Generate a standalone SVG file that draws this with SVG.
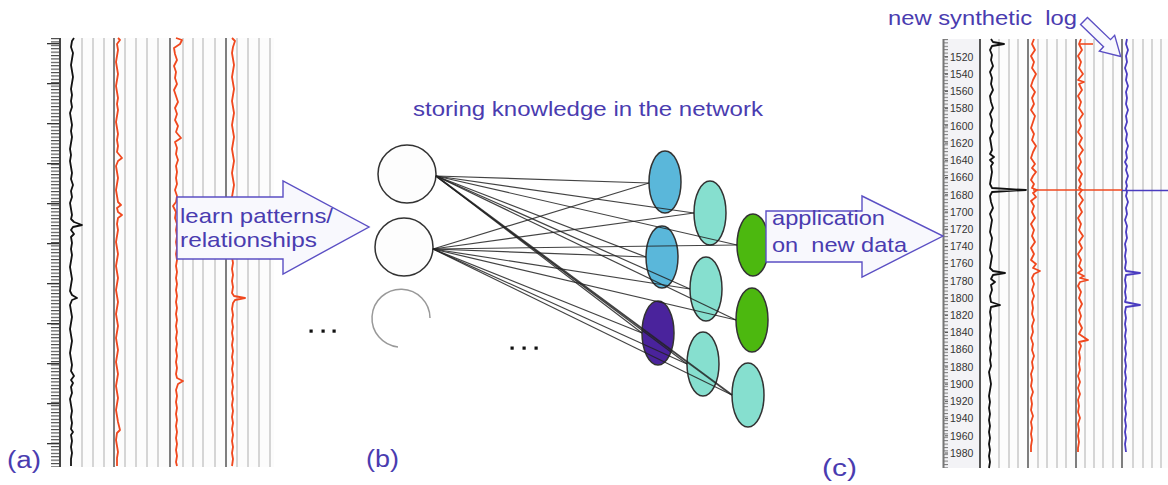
<svg xmlns="http://www.w3.org/2000/svg" width="1168" height="485" viewBox="0 0 1168 485">
<style>
.lbl{font-family:"Liberation Sans",Arial,sans-serif;fill:#4a3cb0}
.dep{font-family:"Liberation Sans",Arial,sans-serif;font-size:10.5px;fill:#333}
.grid{stroke:#c9c9c9;stroke-width:1.5}
.sep{stroke:#555;stroke-width:1.5}
.crv{fill:none;stroke-width:1.8;stroke-linejoin:round}
.blk{stroke:#111}
.red{stroke:#f0481e}
.blu{stroke:#4a3cc0}
.arrow{fill:#f8f8fd;stroke:#5b4fc4;stroke-width:1.4}
.node{stroke:#333;stroke-width:1.5}
.conn line{stroke:#222;stroke-width:1.2;stroke-opacity:0.85}
</style>
<defs>
<pattern id="tickL" x="0" y="38" width="9" height="3.4" patternUnits="userSpaceOnUse"><rect x="0" y="0" width="9" height="1.1" fill="#444"/></pattern>
<pattern id="tickL2" x="0" y="43" width="13" height="40" patternUnits="userSpaceOnUse"><rect x="0" y="0" width="13" height="1.3" fill="#333"/></pattern>
<pattern id="tickR" x="0" y="39" width="4" height="3.4" patternUnits="userSpaceOnUse"><rect x="0" y="0" width="4" height="1" fill="#777"/></pattern>
</defs>
<rect width="1168" height="485" fill="#fff"/>

<!-- (a) left logs panel -->
<g id="panel-a">
<rect x="60" y="38" width="214" height="429" fill="#fcfcfc"/>
<rect x="51" y="38" width="9" height="429" fill="url(#tickL)"/>
<rect x="47" y="38" width="13" height="429" fill="url(#tickL2)"/>
<line x1="60" y1="38" x2="60" y2="467" stroke="#444" stroke-width="2"/>
<g class="grid">
<line x1="82" y1="38" x2="82" y2="467"/><line x1="93" y1="38" x2="93" y2="467"/><line x1="104" y1="38" x2="104" y2="467"/>
<line x1="125" y1="38" x2="125" y2="467"/><line x1="136" y1="38" x2="136" y2="467"/><line x1="147" y1="38" x2="147" y2="467"/><line x1="158" y1="38" x2="158" y2="467"/>
<line x1="183" y1="38" x2="183" y2="467"/><line x1="193" y1="38" x2="193" y2="467"/><line x1="203" y1="38" x2="203" y2="467"/><line x1="215" y1="38" x2="215" y2="467"/>
<line x1="237" y1="38" x2="237" y2="467"/><line x1="248" y1="38" x2="248" y2="467"/><line x1="259" y1="38" x2="259" y2="467"/><line x1="270" y1="38" x2="270" y2="467"/>
</g>
<g class="sep">
<line x1="114" y1="38" x2="114" y2="467"/><line x1="170" y1="38" x2="170" y2="467"/><line x1="226" y1="38" x2="226" y2="467"/>
</g>
<polyline class="crv blk" points="74,38 72,41 71,47 73,53 72,59 71,65 72,71 73,77 72,83 71,89 72,95 71,101 72,107 70,113 71,119 72,125 71,131 72,137 71,143 70,149 71,155 70,161 71,167 72,173 71,179 73,185 71,191 72,197 70,203 71,209 72,215 71,219 74,222 82,225 73,227 71,230 74,234 71,237 72,243 71,249 72,255 71,261 70,267 71,273 72,279 71,285 70,291 72,295 77,298 72,300 70,305 71,311 72,317 71,323 70,329 71,335 72,341 71,347 70,353 71,359 72,365 71,371 74,376 71,380 73,383 71,387 72,393 70,399 71,405 72,411 71,417 72,423 71,429 73,432 71,435 72,441 71,447 72,453 71,459 71,466"/>
<polyline class="crv red" points="118,38 120,40 117,44 118,50 117,56 116,62 117,68 118,74 117,80 116,86 117,92 118,98 117,104 118,110 117,116 116,122 117,128 118,134 117,140 118,146 117,152 122,158 118,161 116,166 117,172 118,178 117,184 116,190 117,196 118,202 121,205 117,208 118,212 122,215 118,218 117,224 118,230 117,236 116,242 117,248 118,254 117,260 116,266 117,272 118,278 117,284 116,290 117,296 118,302 117,308 116,314 117,320 118,326 117,332 116,338 117,344 118,350 117,356 116,362 117,368 118,374 117,380 116,386 117,392 118,398 117,404 116,410 117,416 118,422 120,430 117,433 116,440 117,446 118,452 117,458 117,466"/>
<polyline class="crv red" points="176,38 182,40 180,44 174,48 175,54 177,60 174,66 176,72 175,78 177,84 174,90 176,96 178,102 175,108 177,114 175,120 178,126 176,132 181,138 175,142 177,148 176,154 178,160 176,166 177,172 176,178 177,184 175,190 177,196 176,202 173,206 176,212 175,218 177,224 176,230 177,236 176,242 177,248 176,254 177,260 176,266 177,272 176,278 177,284 176,290 177,296 176,302 177,308 176,314 177,320 176,326 177,332 176,338 177,344 176,350 177,356 176,362 177,368 176,374 177,378 183,381 178,384 176,390 177,396 176,402 177,408 176,414 177,420 176,426 177,432 176,438 177,444 176,450 177,456 176,462 177,466"/>
<polyline class="crv red" points="232,38 235,41 233,47 232,53 233,59 234,65 233,71 232,77 233,83 234,89 233,95 232,101 233,107 234,113 233,119 232,125 233,131 234,137 233,143 232,149 233,155 234,161 233,167 232,173 233,179 234,185 233,191 232,197 233,203 232,209 233,215 232,221 233,227 232,233 233,239 232,245 233,251 232,257 233,263 232,269 233,275 232,281 233,287 232,293 234,296 245,298 235,300 233,303 232,309 233,315 232,321 233,327 232,333 233,339 232,345 233,351 232,357 233,363 232,369 233,375 232,381 233,387 232,393 233,399 232,405 233,411 232,417 233,423 232,429 233,435 232,441 233,447 232,453 233,459 232,466"/>
</g>

<!-- (c) right logs panel -->
<g id="panel-c">
<rect x="943" y="39" width="37" height="429" fill="#f3f3f6"/>
<rect x="980" y="39" width="188" height="429" fill="#fcfcfc"/>
<rect x="944" y="39" width="4" height="429" fill="url(#tickR)"/>
<line x1="943.5" y1="39" x2="943.5" y2="468" stroke="#777" stroke-width="2"/>
<g class="grid">
<line x1="999" y1="39" x2="999" y2="468"/><line x1="1009" y1="39" x2="1009" y2="468"/><line x1="1018" y1="39" x2="1018" y2="468"/>
<line x1="1038" y1="39" x2="1038" y2="468"/><line x1="1047" y1="39" x2="1047" y2="468"/><line x1="1057" y1="39" x2="1057" y2="468"/><line x1="1066" y1="39" x2="1066" y2="468"/>
<line x1="1085" y1="39" x2="1085" y2="468"/><line x1="1094" y1="39" x2="1094" y2="468"/><line x1="1103" y1="39" x2="1103" y2="468"/><line x1="1113" y1="39" x2="1113" y2="468"/>
<line x1="1133" y1="39" x2="1133" y2="468"/><line x1="1143" y1="39" x2="1143" y2="468"/><line x1="1152" y1="39" x2="1152" y2="468"/><line x1="1161" y1="39" x2="1161" y2="468"/>
</g>
<g class="sep">
<line x1="980" y1="39" x2="980" y2="468" stroke-width="2"/><line x1="1028" y1="39" x2="1028" y2="468"/><line x1="1076" y1="39" x2="1076" y2="468"/><line x1="1122" y1="39" x2="1122" y2="468"/>
</g>
<g stroke="#555" stroke-width="1">
<line x1="945" y1="57" x2="948" y2="57"/><line x1="945" y1="74.2" x2="948" y2="74.2"/><line x1="945" y1="91.4" x2="948" y2="91.4"/><line x1="945" y1="108.7" x2="948" y2="108.7"/><line x1="945" y1="125.9" x2="948" y2="125.9"/><line x1="945" y1="143.1" x2="948" y2="143.1"/><line x1="945" y1="160.3" x2="948" y2="160.3"/><line x1="945" y1="177.5" x2="948" y2="177.5"/><line x1="945" y1="194.8" x2="948" y2="194.8"/><line x1="945" y1="212" x2="948" y2="212"/><line x1="945" y1="229.2" x2="948" y2="229.2"/><line x1="945" y1="246.4" x2="948" y2="246.4"/><line x1="945" y1="263.6" x2="948" y2="263.6"/><line x1="945" y1="280.9" x2="948" y2="280.9"/><line x1="945" y1="298.1" x2="948" y2="298.1"/><line x1="945" y1="315.3" x2="948" y2="315.3"/><line x1="945" y1="332.5" x2="948" y2="332.5"/><line x1="945" y1="349.7" x2="948" y2="349.7"/><line x1="945" y1="367" x2="948" y2="367"/><line x1="945" y1="384.2" x2="948" y2="384.2"/><line x1="945" y1="401.4" x2="948" y2="401.4"/><line x1="945" y1="418.6" x2="948" y2="418.6"/><line x1="945" y1="435.8" x2="948" y2="435.8"/><line x1="945" y1="453" x2="948" y2="453"/>
</g>
<g class="dep">
<text x="950" y="60.7">1520</text><text x="950" y="77.9">1540</text><text x="950" y="95.1">1560</text><text x="950" y="112.4">1580</text><text x="950" y="129.6">1600</text><text x="950" y="146.8">1620</text><text x="950" y="164">1640</text><text x="950" y="181.2">1660</text><text x="950" y="198.5">1680</text><text x="950" y="215.7">1700</text><text x="950" y="232.9">1720</text><text x="950" y="250.1">1740</text><text x="950" y="267.3">1760</text><text x="950" y="284.6">1780</text><text x="950" y="301.8">1800</text><text x="950" y="319">1820</text><text x="950" y="336.2">1840</text><text x="950" y="353.4">1860</text><text x="950" y="370.7">1880</text><text x="950" y="387.9">1900</text><text x="950" y="405.1">1920</text><text x="950" y="422.3">1940</text><text x="950" y="439.5">1960</text><text x="950" y="456.7">1980</text>
</g>
<polyline class="crv blk" points="991,39 993,42 1004,44 992,46 990,50 992,55 991,60 993,66 990,72 992,78 991,84 993,90 990,96 991,102 993,108 990,114 992,120 991,126 993,132 990,138 991,144 992,150 990,154 994,157 990,160 993,163 991,166 992,172 991,178 990,184 992,188 1026,190 992,192 990,196 991,202 993,208 990,214 992,220 991,226 990,232 992,238 991,244 990,250 992,256 991,262 990,268 993,271 1005,273 993,275 991,279 995,282 991,285 992,290 990,296 991,302 1000,305 991,307 990,312 991,318 990,324 991,330 990,336 991,342 990,348 991,354 990,360 991,366 989,372 990,378 991,384 990,390 989,396 990,402 989,408 990,414 989,420 990,426 989,432 990,438 989,444 990,450 989,456 990,462 989,468"/>
<polyline class="crv red" points="1034,39 1032,44 1035,50 1031,56 1034,62 1032,68 1036,74 1033,80 1031,86 1035,92 1032,98 1034,104 1031,110 1035,116 1033,122 1031,128 1034,134 1032,140 1036,146 1033,152 1031,158 1035,164 1032,168 1036,172 1033,176 1031,180 1034,184 1032,188 1037,190 1033,193 1036,197 1031,201 1034,206 1032,212 1035,218 1031,224 1034,230 1032,236 1035,242 1031,248 1034,254 1031,260 1036,264 1033,268 1040,271 1034,274 1032,278 1034,284 1032,290 1034,296 1032,302 1033,308 1032,314 1034,320 1032,326 1033,332 1031,338 1033,344 1032,350 1034,356 1032,362 1033,368 1031,374 1032,380 1031,386 1033,392 1031,398 1032,404 1031,410 1033,416 1031,422 1032,428 1031,434 1032,440 1031,446 1031,452"/>
<polyline class="crv red" points="1081,39 1079,44 1082,50 1078,56 1081,62 1079,68 1083,74 1078,80 1084,82 1079,84 1082,90 1078,96 1081,102 1079,108 1083,114 1079,120 1081,126 1078,132 1082,138 1079,144 1083,150 1079,156 1081,162 1078,168 1082,174 1079,180 1081,184 1079,188 1082,190 1079,194 1083,200 1079,206 1082,212 1078,218 1081,224 1079,230 1083,236 1079,242 1082,248 1078,254 1081,260 1079,266 1082,270 1078,273 1084,276 1080,278 1088,280 1080,282 1078,286 1081,292 1079,298 1082,304 1079,310 1081,316 1079,322 1082,328 1079,334 1088,340 1079,342 1081,346 1079,352 1080,358 1079,364 1080,370 1078,376 1080,382 1078,388 1080,394 1078,400 1079,406 1078,412 1080,418 1078,424 1079,430 1078,436 1079,442 1078,448 1078,452"/>
<polyline class="crv blu" points="1127,39 1126,44 1128,50 1126,56 1127,62 1125,68 1127,74 1126,80 1128,86 1126,92 1127,98 1126,104 1128,110 1126,116 1127,122 1125,128 1127,134 1126,140 1128,146 1126,152 1127,158 1125,162 1127,166 1126,170 1128,176 1126,182 1127,186 1126,189 1127,192 1126,196 1128,202 1126,208 1127,214 1125,220 1127,226 1126,232 1127,238 1125,244 1126,250 1125,256 1126,262 1125,268 1126,271 1140,273 1126,275 1125,280 1126,286 1125,292 1126,298 1125,302 1140,305 1126,307 1125,312 1126,318 1125,324 1126,330 1125,336 1126,342 1125,348 1126,354 1125,360 1126,366 1125,372 1126,378 1125,384 1126,390 1125,396 1126,402 1125,408 1126,414 1125,420 1126,426 1125,432 1126,438 1125,444 1126,452"/>
<line x1="1033" y1="190" x2="1122" y2="190" stroke="#f0481e" stroke-width="1.6"/>
<line x1="1122" y1="190.5" x2="1168" y2="190.5" stroke="#4a3cc0" stroke-width="1.6"/>
<line x1="1079" y1="44" x2="1093" y2="44" stroke="#f0481e" stroke-width="1.6"/>
</g>

<!-- network nodes -->
<g id="input-1"><circle class="node" cx="407" cy="174" r="29" fill="#fdfdfd"/></g>
<g id="input-2"><circle class="node" cx="404" cy="247" r="29" fill="#fdfdfd"/></g>
<g id="input-3"><path d="M398,347 A29,29 0 1 1 430,318" fill="none" stroke="#999" stroke-width="1.5"/></g>
<g id="hidden1-1"><ellipse class="node" cx="665" cy="182" rx="16" ry="31" fill="#5ab7da"/></g>
<g id="hidden1-2"><ellipse class="node" cx="662" cy="257" rx="16" ry="31" fill="#5ab7da"/></g>
<g id="hidden1-3"><ellipse class="node" cx="658" cy="333" rx="16" ry="32" fill="#4a239c"/></g>
<g id="hidden2-1"><ellipse class="node" cx="710" cy="213" rx="16" ry="32" fill="#86dfcf"/></g>
<g id="hidden2-2"><ellipse class="node" cx="706" cy="289" rx="16" ry="32" fill="#86dfcf"/></g>
<g id="hidden2-3"><ellipse class="node" cx="703" cy="364" rx="16" ry="32" fill="#86dfcf"/></g>
<g id="output-1"><ellipse class="node" cx="753" cy="245" rx="16" ry="31" fill="#4cb80f"/></g>
<g id="output-2"><ellipse class="node" cx="752" cy="320" rx="16" ry="32" fill="#4cb80f"/></g>
<g id="output-3"><ellipse class="node" cx="748" cy="395" rx="16" ry="32" fill="#86dfcf"/></g>

<!-- connectors -->
<g id="connectors" class="conn">
<line x1="436" y1="176" x2="649" y2="183"/>
<line x1="436" y1="176" x2="694" y2="213"/>
<line x1="436" y1="176" x2="737" y2="245"/>
<line x1="436" y1="176" x2="646" y2="257"/>
<line x1="436" y1="176" x2="690" y2="289"/>
<line x1="436" y1="176" x2="736" y2="320"/>
<line x1="436" y1="176" x2="642" y2="333"/>
<line x1="436" y1="176" x2="687" y2="364"/>
<line x1="436" y1="176" x2="732" y2="395" style="stroke-width:1.8"/>
<line x1="433" y1="249" x2="649" y2="183"/>
<line x1="433" y1="249" x2="694" y2="213"/>
<line x1="433" y1="249" x2="737" y2="245"/>
<line x1="433" y1="249" x2="646" y2="257"/>
<line x1="433" y1="249" x2="690" y2="289"/>
<line x1="433" y1="249" x2="736" y2="320"/>
<line x1="433" y1="249" x2="642" y2="333"/>
<line x1="433" y1="249" x2="687" y2="364"/>
<line x1="433" y1="249" x2="732" y2="395"/>
</g>

<!-- ellipses dots -->
<g id="dots-1" fill="#111"><rect x="309.5" y="329.5" width="3.2" height="3.2"/><rect x="321.5" y="329.5" width="3.2" height="3.2"/><rect x="332.5" y="329.5" width="3.2" height="3.2"/></g>
<g id="dots-2" fill="#111"><rect x="510.5" y="346.5" width="3.2" height="3.2"/><rect x="522.5" y="346.5" width="3.2" height="3.2"/><rect x="534.5" y="346.5" width="3.2" height="3.2"/></g>

<!-- block arrows -->
<g id="arrow-learn">
<polygon class="arrow" points="177,197 283,197 283,181 369,227 283,274 283,259 177,259"/>
<text class="lbl" x="180" y="223" font-size="21" textLength="153" lengthAdjust="spacingAndGlyphs">learn patterns/</text>
<text class="lbl" x="180" y="247" font-size="21" textLength="137" lengthAdjust="spacingAndGlyphs">relationships</text>
</g>
<g id="arrow-apply">
<polygon class="arrow" points="766,211 862,211 862,196 943,236 862,277 862,262 766,262"/>
<text class="lbl" x="772" y="225" font-size="21" textLength="113" lengthAdjust="spacingAndGlyphs">application</text>
<text class="lbl" x="772" y="252" font-size="21" textLength="135" lengthAdjust="spacingAndGlyphs" xml:space="preserve">on  new data</text>
</g>
<g id="arrow-synthetic">
<polygon class="arrow" transform="translate(1084,21) rotate(44)" points="0,-5 32,-5 32,-11 51,0 32,11 32,5 0,5"/>
</g>

<!-- labels -->
<text id="title-network" class="lbl" x="413" y="116" font-size="21" textLength="350" lengthAdjust="spacingAndGlyphs">storing knowledge in the network</text>
<text id="title-synthetic" class="lbl" x="888" y="25" font-size="21" textLength="189" lengthAdjust="spacingAndGlyphs" xml:space="preserve">new synthetic  log</text>
<text id="label-a" class="lbl" x="7" y="468" font-size="23" textLength="34" lengthAdjust="spacingAndGlyphs">(a)</text>
<text id="label-b" class="lbl" x="366" y="467" font-size="23" textLength="33" lengthAdjust="spacingAndGlyphs">(b)</text>
<text id="label-c" class="lbl" x="822" y="476" font-size="23" textLength="35" lengthAdjust="spacingAndGlyphs">(c)</text>
</svg>
